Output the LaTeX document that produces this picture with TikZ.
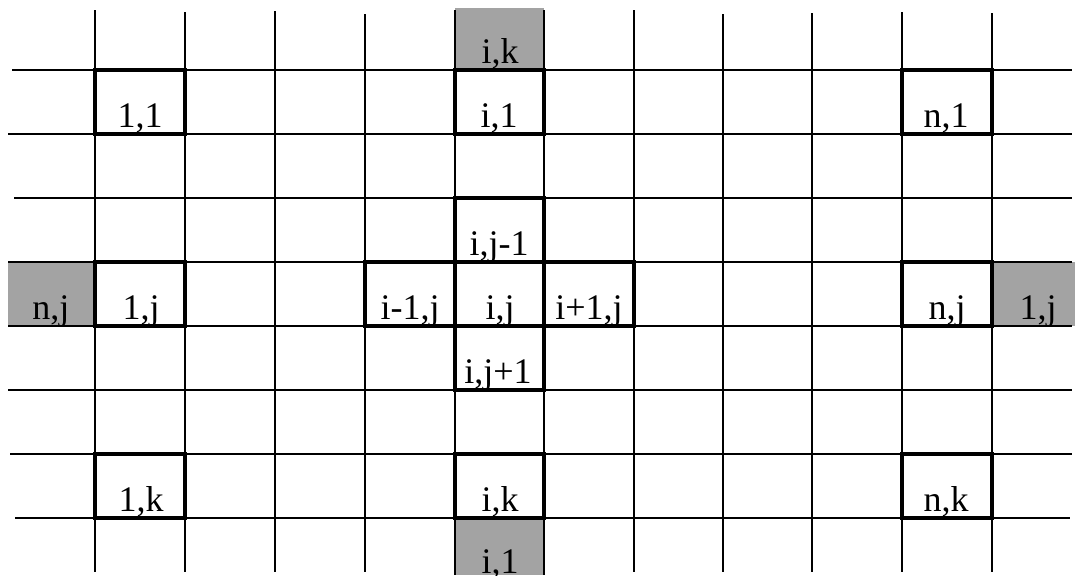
\documentclass[tikz,border=0pt]{standalone}
\usepackage{fontspec}
\setmainfont{Liberation Serif}
\begin{document}
\begin{tikzpicture}[x=.5pt,y=-.5pt,line width=1pt,
  lbl/.style={anchor=base,inner sep=0pt,font=\fontsize{18}{20}\selectfont},
  cellbox/.style={line width=1.6pt},
  ghost/.style={fill=black!36}]
\path[use as bounding box] (0,0) rectangle (1075,575);
\clip (0,0) rectangle (1075,575);
% wrapped-around ghost cells
\fill[ghost] (455,8) rectangle (544,70);
\fill[ghost] (455,518) rectangle (544,575);
\fill[ghost] (8,262) rectangle (94,326);
\fill[ghost] (993,262) rectangle (1075,326);
% grid
\draw (95,10) -- (95,572);
\draw (185,12) -- (185,572);
\draw (275,11) -- (275,572);
\draw (365,14) -- (365,572);
\draw (455,10) -- (455,575);
\draw (544,10) -- (544,575);
\draw (634,10) -- (634,572);
\draw (723,14) -- (723,572);
\draw (812,13) -- (812,572);
\draw (902,12) -- (902,572);
\draw (992,13) -- (992,572);
\draw (12,70) -- (1072,70);
\draw (8,134) -- (1072,134);
\draw (14,198) -- (1072,198);
\draw (8,262) -- (1072,262);
\draw (8,326) -- (1072,326);
\draw (8,390) -- (1072,390);
\draw (10,454) -- (1072,454);
\draw (15,518) -- (1070,518);
% marked cells
\draw[cellbox] (95,70) rectangle (185,134);
\draw[cellbox] (455,70) rectangle (544,134);
\draw[cellbox] (902,70) rectangle (992,134);
\draw[cellbox] (455,198) rectangle (544,262);
\draw[cellbox] (95,262) rectangle (185,326);
\draw[cellbox] (365,262) rectangle (455,326);
\draw[cellbox] (455,262) rectangle (544,326);
\draw[cellbox] (544,262) rectangle (634,326);
\draw[cellbox] (902,262) rectangle (992,326);
\draw[cellbox] (455,326) rectangle (544,390);
\draw[cellbox] (95,454) rectangle (185,518);
\draw[cellbox] (455,454) rectangle (544,518);
\draw[cellbox] (902,454) rectangle (992,518);
% labels
\node[lbl] (gik) at (500,63) {i,k};
\node[lbl] (c11) at (140,127) {1,1};
\node[lbl] (ci1) at (499,127) {i,1};
\node[lbl] (cn1) at (946,127) {n,1};
\node[lbl] (cijm) at (499,255) {i,j-1};
\node[lbl] (gnj) at (51,319) {n,j};
\node[lbl] (c1j) at (141,319) {1,j};
\node[lbl] (cimj) at (410,319) {i-1,j};
\node[lbl] (cij) at (500,319) {i,j};
\node[lbl] (cipj) at (589,319) {i+1,j};
\node[lbl] (cnj) at (947,319) {n,j};
\node[lbl] (g1j) at (1038,319) {1,j};
\node[lbl] (cijp) at (498,383) {i,j+1};
\node[lbl] (c1k) at (141,511) {1,k};
\node[lbl] (cik) at (500,511) {i,k};
\node[lbl] (cnk) at (946,511) {n,k};
\node[lbl] (gi1) at (500,573) {i,1};
\end{tikzpicture}
\end{document}
